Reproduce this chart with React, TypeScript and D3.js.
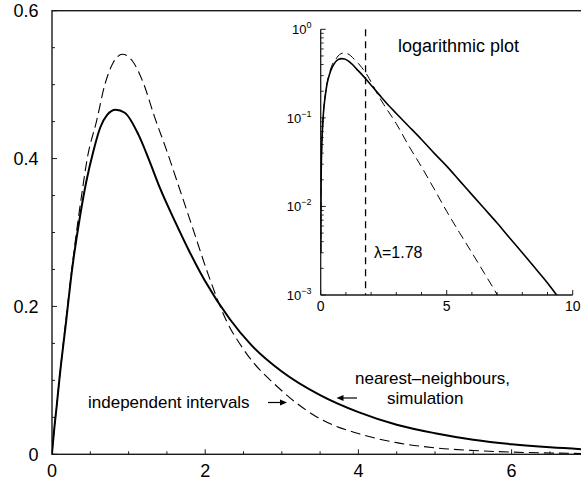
import React from "react";
import * as d3 from "d3";

// nearest-neighbours simulation (solid)
const simX = [0, 0.002, 0.01, 0.03, 0.06, 0.1, 0.19, 0.25, 0.366, 0.45, 0.54, 0.63, 0.72, 0.83, 0.95, 1.13, 1.26, 1.41, 1.61, 1.8, 2.0, 2.32, 2.6, 3.0, 3.5, 4.0, 4.5, 5.0, 5.5, 6.0, 6.5, 7.0, 7.5, 8.0, 8.5, 9.0, 9.4, 9.6];
const simY = [0, 0.003, 0.013, 0.035, 0.064, 0.105, 0.185, 0.24, 0.322, 0.37, 0.41, 0.442, 0.459, 0.466, 0.462, 0.432, 0.4, 0.36, 0.314, 0.273, 0.234, 0.183, 0.148, 0.112, 0.08, 0.057, 0.04, 0.0285, 0.0197, 0.0136, 0.0094, 0.0065, 0.0044, 0.003, 0.00203, 0.00137, 0.00097, 0.00083];

// independent intervals (dashed)
const indX = [0, 0.002, 0.01, 0.03, 0.06, 0.1, 0.2, 0.3, 0.4, 0.46, 0.58, 0.69, 0.8, 0.92, 1.05, 1.19, 1.34, 1.5, 1.63, 1.84, 2.04, 2.28, 2.5, 3.0, 3.5, 4.0, 4.5, 5.0, 5.5, 6.0, 6.5, 7.0, 7.3];
const indY = [0, 0.003, 0.013, 0.035, 0.064, 0.105, 0.198, 0.285, 0.36, 0.4, 0.45, 0.5, 0.53, 0.541, 0.532, 0.503, 0.456, 0.41, 0.37, 0.305, 0.243, 0.18, 0.142, 0.086, 0.048, 0.028, 0.0158, 0.0088, 0.0051, 0.003, 0.00175, 0.00101, 0.0007];

const mainXTicks = [0, 2, 4, 6];
const mainYTicks = [0, 0.2, 0.4, 0.6];
const insetXTicks = [0, 5, 10];
const insetYExps = [0, -1, -2, -3];
const lambda = 1.78;

const FONT = "'Liberation Sans', Arial, Helvetica, sans-serif";
const AX = "#1a1a1a";

export default function App() {
  // main plot
  const x = d3.scaleLinear().domain([0, 7]).range([52, 588.2]);
  const y = d3.scaleLinear().domain([0, 0.6]).range([454.3, 10.7]);

  // inset plot
  const xi = d3.scaleLinear().domain([0, 10]).range([320.7, 572.7]);
  const yi = d3.scaleLog().domain([1e-3, 1]).range([295, 29.3]);

  const sim = simX.map((v, i) => [v, simY[i]] as [number, number]);
  const ind = indX.map((v, i) => [v, indY[i]] as [number, number]);

  const mainLine = d3
    .line<[number, number]>()
    .x((d) => x(d[0]))
    .y((d) => y(d[1]))
    .curve(d3.curveMonotoneX);

  const logLine = d3
    .line<[number, number]>()
    .defined((d) => d[1] > 0)
    .x((d) => xi(d[0]))
    .y((d) => yi(d[1]))
    .curve(d3.curveMonotoneX);

  const xMinor = d3.range(0, 7.01, 0.5);
  const yMinor = d3.range(0, 0.601, 0.05);
  const xiMinor = d3.range(0, 10.01, 1);
  const yiMinor: number[] = [];
  [-3, -2, -1].forEach((e) => {
    for (let k = 2; k <= 9; k++) yiMinor.push(k * Math.pow(10, e));
  });

  const supText = (e: number) => (e < 0 ? `\u2212${-e}` : `${e}`);

  return (
    <svg
      width={581}
      height={481}
      style={{ position: "absolute", left: 0, top: 0, background: "#fff" }}
      fontFamily={FONT}
    >
      <defs>
        <clipPath id="mainClip">
          <rect x={x(0)} y={y(0.6)} width={x(7) - x(0)} height={y(0) - y(0.6)} />
        </clipPath>
        <clipPath id="insetClip">
          <rect x={xi(0)} y={yi(1) - 5} width={xi(10) - xi(0)} height={yi(1e-3) - yi(1) + 5} />
        </clipPath>
      </defs>

      {/* main frame */}
      <rect
        x={x(0)}
        y={y(0.6)}
        width={x(7) - x(0)}
        height={y(0) - y(0.6)}
        fill="none"
        stroke={AX}
        strokeWidth={1.4}
      />
      {xMinor.map((t) => (
        <line
          key={"xm" + t}
          x1={x(t)}
          x2={x(t)}
          y1={y(0)}
          y2={y(0) - (t % 2 === 0 ? 5 : 3)}
          stroke={AX}
          strokeWidth={1}
        />
      ))}
      {yMinor.map((t) => (
        <line
          key={"ym" + t}
          x1={x(0)}
          x2={x(0) + (Math.abs(t / 0.2 - Math.round(t / 0.2)) < 1e-6 ? 5 : 3)}
          y1={y(t)}
          y2={y(t)}
          stroke={AX}
          strokeWidth={1}
        />
      ))}
      {mainXTicks.map((t) => (
        <text key={"xl" + t} x={x(t)} y={477} textAnchor="middle" fontSize={18} fill="#000">
          {t}
        </text>
      ))}
      {mainYTicks.map((t) => (
        <text
          key={"yl" + t}
          x={38.5}
          y={y(t)}
          dy="0.36em"
          textAnchor="end"
          fontSize={18}
          fill="#000"
        >
          {t === 0 ? "0" : d3.format(".1f")(t)}
        </text>
      ))}

      {/* main curves */}
      <g clipPath="url(#mainClip)" fill="none">
        <path d={mainLine(ind) || ""} stroke="#000" strokeWidth={1.1} strokeDasharray="10,5" />
        <path d={mainLine(sim) || ""} stroke="#000" strokeWidth={2} />
      </g>

      {/* annotations */}
      <text x={88} y={407.5} fontSize={17} fill="#000">
        independent intervals
      </text>
      <line x1={268} x2={282} y1={402.5} y2={402.5} stroke="#000" strokeWidth={1.2} />
      <path d="M287,402.5 L280,399.5 L280,405.5 Z" fill="#000" />
      <text x={355} y={384} fontSize={17} fill="#000">
        nearest{"\u2013"}neighbours,
      </text>
      <text x={387} y={403.5} fontSize={17} fill="#000">
        simulation
      </text>
      <line x1={357} x2={342} y1={398} y2={398} stroke="#000" strokeWidth={1.2} />
      <path d="M336.5,398 L343.5,395 L343.5,401 Z" fill="#000" />

      {/* inset axes */}
      <line x1={xi(0)} x2={xi(0)} y1={yi(1)} y2={yi(1e-3)} stroke={AX} strokeWidth={1.3} />
      <line x1={xi(0)} x2={xi(10)} y1={yi(1e-3)} y2={yi(1e-3)} stroke={AX} strokeWidth={1.3} />
      {xiMinor.map((t) => (
        <line
          key={"xim" + t}
          x1={xi(t)}
          x2={xi(t)}
          y1={yi(1e-3)}
          y2={yi(1e-3) - (t % 5 === 0 ? 5 : 3)}
          stroke={AX}
          strokeWidth={1}
        />
      ))}
      {insetYExps.map((e) => (
        <line
          key={"yiM" + e}
          x1={xi(0)}
          x2={xi(0) + 5}
          y1={yi(Math.pow(10, e))}
          y2={yi(Math.pow(10, e))}
          stroke={AX}
          strokeWidth={1}
        />
      ))}
      {yiMinor.map((t) => (
        <line
          key={"yim" + t}
          x1={xi(0)}
          x2={xi(0) + 3}
          y1={yi(t)}
          y2={yi(t)}
          stroke={AX}
          strokeWidth={0.9}
        />
      ))}
      {insetXTicks.map((t) => (
        <text key={"xil" + t} x={xi(t)} y={311} textAnchor="middle" fontSize={14} fill="#000">
          {t}
        </text>
      ))}
      {insetYExps.map((e) => (
        <text
          key={"yil" + e}
          x={311.5}
          y={yi(Math.pow(10, e)) + 5}
          textAnchor="end"
          fontSize={13}
          fill="#000"
        >
          10
          <tspan dy={-6} fontSize={9}>
            {supText(e)}
          </tspan>
        </text>
      ))}

      {/* lambda marker */}
      <line
        x1={xi(lambda)}
        x2={xi(lambda)}
        y1={yi(1)}
        y2={yi(1e-3)}
        stroke="#000"
        strokeWidth={1.3}
        strokeDasharray="7,5"
      />

      {/* inset curves */}
      <g clipPath="url(#insetClip)" fill="none">
        <path d={logLine(ind) || ""} stroke="#000" strokeWidth={1} strokeDasharray="9,5" />
        <path d={logLine(sim) || ""} stroke="#000" strokeWidth={1.6} />
      </g>

      <text x={398} y={52} fontSize={18} fill="#000">
        logarithmic plot
      </text>
      <text x={374} y={258} fontSize={16} fill="#000">
        {"\u03bb"}=1.78
      </text>
    </svg>
  );
}
